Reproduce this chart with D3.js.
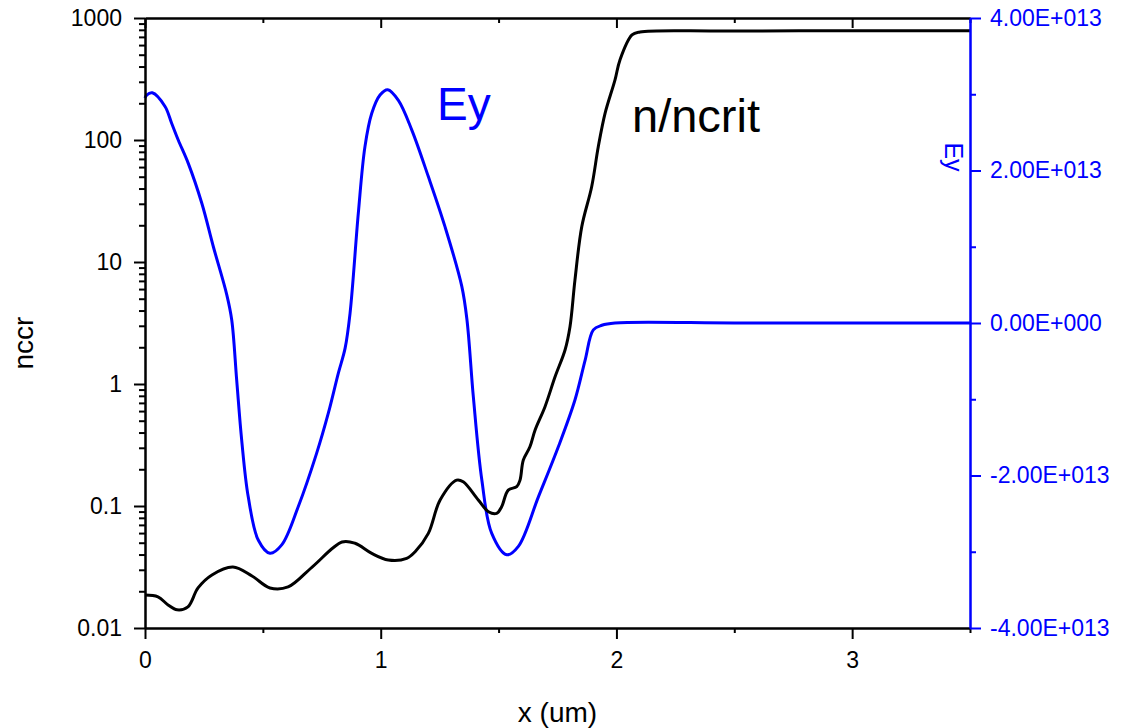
<!DOCTYPE html>
<html>
<head>
<meta charset="utf-8">
<script src="https://cdn.jsdelivr.net/npm/d3@7"></script>
<style>
  body { margin: 0; background: #fff; }
  text { font-family: "Liberation Sans", Arial, sans-serif; }
</style>
</head>
<body>
<svg width="1122" height="728"></svg>
<script>
// n/ncrit profile (log axis, left)
var nX = [0.000, 0.055, 0.098, 0.136, 0.182, 0.225, 0.284, 0.373, 0.454, 0.530, 0.607, 0.709,
          0.836, 0.891, 0.962, 1.032, 1.110, 1.146, 1.202, 1.252, 1.322, 1.350, 1.414, 1.457,
          1.492, 1.513, 1.541, 1.577, 1.591, 1.605, 1.633, 1.655, 1.697, 1.740, 1.782, 1.803,
          1.824, 1.853, 1.895, 1.923, 1.952, 1.994, 2.015, 2.066, 2.100, 2.440, 3.000, 3.500];
var nVal = [0.0186, 0.0180, 0.01545, 0.0141, 0.0149, 0.0213, 0.0272, 0.0316, 0.0267, 0.0213, 0.0217, 0.0316,
            0.0507, 0.0495, 0.0409, 0.0361, 0.0372, 0.0422, 0.0597, 0.112, 0.163, 0.158, 0.112, 0.0898,
            0.0871, 0.0987, 0.135, 0.144, 0.163, 0.238, 0.306, 0.420, 0.652, 1.15, 1.90, 2.95,
            7.11, 19.5, 41.4, 88, 166, 311, 453, 726, 768, 783, 785, 785];

// Ey field (linear axis, right)
var eX = [0.000, 0.007, 0.031, 0.085, 0.113, 0.141, 0.184, 0.241, 0.290, 0.347, 0.368, 0.389, 0.410, 0.438,
          0.481, 0.530, 0.580, 0.650, 0.728, 0.778, 0.820, 0.849, 0.870, 0.905, 0.933, 0.962,
          0.997, 1.030, 1.075, 1.132, 1.202, 1.273, 1.344, 1.366, 1.393, 1.429, 1.471, 1.535,
          1.584, 1.669, 1.754, 1.824, 1.867, 1.902, 1.938, 1.994, 2.500, 3.000, 3.500];
var eVal = [2.95e13, 2.99e13, 3.02e13, 2.84e13, 2.62e13, 2.40e13, 2.09e13, 1.57e13, 1.00e13, 0.37e13, 0.04e13, -0.75e13, -1.53e13, -2.28e13,
            -2.85e13, -3.02e13, -2.91e13, -2.41e13, -1.71e13, -1.18e13, -0.66e13, -0.33e13, 0.13e13, 1.44e13, 2.31e13, 2.75e13,
            2.99e13, 3.06e13, 2.92e13, 2.53e13, 1.92e13, 1.26e13, 0.48e13, 0.04e13, -0.97e13, -2.06e13, -2.76e13, -3.04e13,
            -2.93e13, -2.28e13, -1.62e13, -1.01e13, -0.49e13, -0.09e13, -0.03e13, 0, 0, 0, 0];

var xTicks = [0, 1, 2, 3];
var xMinor = [0.5, 1.5, 2.5, 3.5];
var nTicks = [0.01, 0.1, 1, 10, 100, 1000];
var nLabels = ["0.01", "0.1", "1", "10", "100", "1000"];
var eTicks = [-4e13, -2e13, 0, 2e13, 4e13];
var eLabels = ["-4.00E+013", "-2.00E+013", "0.00E+000", "2.00E+013", "4.00E+013"];
var eMinor = [-3e13, -1e13, 1e13, 3e13];

var svg = d3.select("svg");
var plotL = 145, plotR = 970, plotT = 18, plotB = 628;
var blue = "#0000ff";

var x = d3.scaleLinear().domain([0, 3.5]).range([plotL, plotR]);
var yN = d3.scaleLog().domain([0.01, 1000]).range([plotB, plotT]);
var yE = d3.scaleLinear().domain([-4e13, 4e13]).range([plotB, plotT]);

var nMinor = yN.ticks().filter(function (d) { return nTicks.indexOf(d) < 0; });

function styleAxis(g, color) {
    g.selectAll("path").attr("stroke", color).attr("stroke-width", 2);
    g.selectAll("line").attr("stroke", color).attr("stroke-width", 2);
    g.selectAll("text").attr("fill", color).style("font-size", "23px")
        .style("font-family", "'Liberation Sans', Arial, sans-serif");
}

// curves
var nLine = d3.line()
    .x(function (d) { return x(d[0]); })
    .y(function (d) { return yN(d[1]); })
    .curve(d3.curveCatmullRom.alpha(0.5));
var eLine = d3.line()
    .x(function (d) { return x(d[0]); })
    .y(function (d) { return yE(d[1]); })
    .curve(d3.curveCatmullRom.alpha(0.5));

svg.append("path")
    .datum(d3.zip(eX, eVal))
    .attr("d", eLine)
    .attr("fill", "none")
    .attr("stroke", blue)
    .attr("stroke-width", 3);

svg.append("path")
    .datum(d3.zip(nX, nVal))
    .attr("d", nLine)
    .attr("fill", "none")
    .attr("stroke", "#000")
    .attr("stroke-width", 3);

// bottom axis
svg.append("g")
    .attr("transform", "translate(0," + plotB + ")")
    .call(d3.axisBottom(x).tickValues(xMinor).tickSize(5).tickSizeOuter(0).tickFormat(""))
    .call(styleAxis, "#000");
svg.append("g")
    .attr("transform", "translate(0," + plotB + ")")
    .call(d3.axisBottom(x).tickValues(xTicks).tickSize(11).tickSizeOuter(0).tickPadding(13).tickFormat(d3.format("d")))
    .call(styleAxis, "#000");

// top axis, ticks pointing in
svg.append("g")
    .attr("transform", "translate(0," + plotT + ")")
    .call(d3.axisTop(x).tickValues(xMinor).tickSize(-5).tickSizeOuter(0).tickFormat(""))
    .call(styleAxis, "#000");
svg.append("g")
    .attr("transform", "translate(0," + plotT + ")")
    .call(d3.axisTop(x).tickValues(xTicks).tickSize(-10).tickSizeOuter(0).tickFormat(""))
    .call(styleAxis, "#000");

// left log axis
svg.append("g")
    .attr("transform", "translate(" + plotL + ",0)")
    .call(d3.axisLeft(yN).tickValues(nMinor).tickSize(6).tickSizeOuter(0).tickFormat(""))
    .call(styleAxis, "#000");
svg.append("g")
    .attr("transform", "translate(" + plotL + ",0)")
    .call(d3.axisLeft(yN).tickValues(nTicks).tickSize(11).tickSizeOuter(0).tickPadding(12)
        .tickFormat(function (d, i) { return nLabels[i]; }))
    .call(styleAxis, "#000");

// right Ey axis
svg.append("g")
    .attr("transform", "translate(" + plotR + ",0)")
    .call(d3.axisRight(yE).tickValues(eMinor).tickSize(6).tickSizeOuter(0).tickFormat(""))
    .call(styleAxis, blue);
svg.append("g")
    .attr("transform", "translate(" + plotR + ",0)")
    .call(d3.axisRight(yE).tickValues(eTicks).tickSize(11).tickSizeOuter(0).tickPadding(9)
        .tickFormat(function (d, i) { return eLabels[i]; }))
    .call(styleAxis, blue);

// axis titles
svg.append("text")
    .attr("transform", "translate(33,343) rotate(-90)")
    .attr("text-anchor", "middle")
    .style("font-size", "28px")
    .text("nccr");

svg.append("text")
    .attr("x", (plotL + plotR) / 2)
    .attr("y", 722)
    .attr("text-anchor", "middle")
    .style("font-size", "28px")
    .text("x (um)");

svg.append("text")
    .attr("transform", "translate(945,157) rotate(90)")
    .attr("text-anchor", "middle")
    .attr("fill", blue)
    .style("font-size", "25px")
    .text("Ey");

// curve labels
svg.append("text")
    .attr("x", 437)
    .attr("y", 120)
    .attr("fill", blue)
    .style("font-size", "46px")
    .text("Ey");

svg.append("text")
    .attr("x", 632)
    .attr("y", 132)
    .style("font-size", "47px")
    .text("n/ncrit");
</script>
</body>
</html>
